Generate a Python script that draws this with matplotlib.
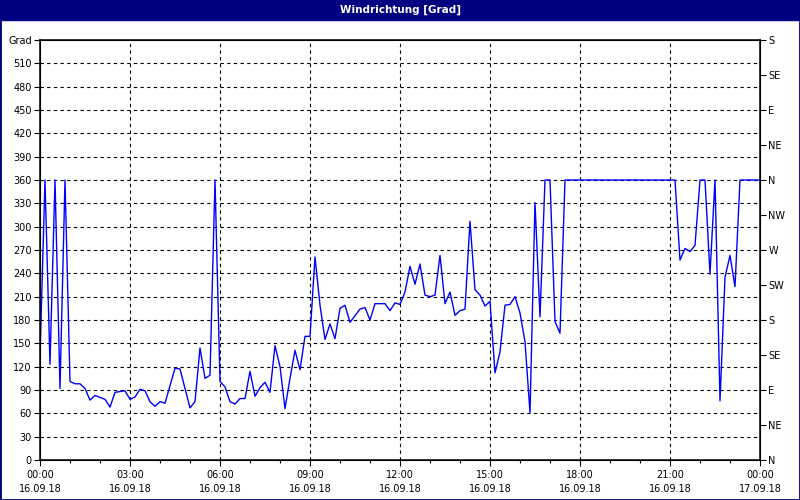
import matplotlib.pyplot as plt
from matplotlib.patches import Rectangle
from matplotlib.ticker import MultipleLocator

plt.rcParams['font.family'] = ['Liberation Sans Narrow', 'DejaVu Sans']

# minutes since 16.09.18 00:00, wind direction in degrees
minutes = [0, 10, 20, 30, 40, 50, 60, 70, 80, 90, 100, 110, 130, 140, 150,
           170, 180, 190, 200, 210, 220, 230, 240, 250, 270, 280, 300, 310,
           320, 330, 340, 350, 360, 370, 380, 390, 400, 410, 420, 430, 440,
           450, 460, 470, 480, 490, 500, 510, 520, 530, 540, 550, 560, 570,
           580, 590, 600, 610, 620, 640, 650, 660, 670, 690, 700, 710, 720,
           730, 740, 750, 760, 770, 780, 790, 800, 810, 820, 830, 840, 850,
           860, 870, 880, 890, 900, 910, 920, 930, 940, 950, 960, 970, 980,
           990, 1000, 1010, 1020, 1030, 1040, 1050, 1060, 1270, 1280, 1290,
           1300, 1310, 1320, 1330, 1340, 1350, 1360, 1370, 1380, 1390, 1400,
           1410, 1420, 1430, 1440]
grad = [133, 360, 123, 360, 92, 360, 101, 98, 98, 92, 77, 83, 78, 68, 87,
        89, 78, 81, 91, 89, 75, 69, 75, 73, 118, 117, 67, 75,
        144, 105, 109, 360, 101, 94, 75, 72, 79, 79, 114, 82, 93,
        100, 87, 147, 120, 66, 105, 141, 116, 159, 159, 261, 199, 155,
        175, 156, 195, 199, 177, 194, 196, 180, 201, 201, 192, 202, 200,
        216, 249, 226, 252, 212, 210, 212, 263, 201, 216, 186, 192, 194,
        307, 219, 212, 198, 204, 112, 139, 199, 200, 210, 189, 152, 61,
        331, 184, 360, 360, 178, 163, 360, 360, 360, 257, 272,
        268, 276, 360, 360, 239, 360, 76, 235, 263, 223, 360,
        360, 360, 360, 360]

stunden = [m / 60 for m in minutes]

x_labels = ['00:00\n16.09.18', '03:00\n16.09.18', '06:00\n16.09.18',
            '09:00\n16.09.18', '12:00\n16.09.18', '15:00\n16.09.18',
            '18:00\n16.09.18', '21:00\n16.09.18', '00:00\n17.09.18']
y_labels = [str(v) for v in range(0, 540, 30)] + ['Grad']
richtungen = ['N', 'NE', 'E', 'SE', 'S', 'SW', 'W', 'NW',
              'N', 'NE', 'E', 'SE', 'S']

navy = '#000080'
fig = plt.figure(figsize=(8, 5), dpi=100)
ax = fig.add_axes([0.05, 0.08, 0.90, 0.84])

ax.plot(stunden, grad, color='#0000ff', lw=1.0, zorder=3)

ax.set_xlim(0, 24)
ax.set_ylim(0, 540)
ax.set_xticks(range(0, 25, 3))
ax.set_xticklabels(x_labels, linespacing=1.55)
ax.xaxis.set_minor_locator(MultipleLocator(1))
ax.set_yticks(range(0, 541, 30))
ax.set_yticklabels(y_labels)
ax.tick_params(axis='both', labelsize=7, length=4, width=0.8, pad=2)
ax.tick_params(axis='x', which='minor', length=2, width=0.8)
ax.tick_params(axis='x', pad=3)

for v in range(30, 540, 30):
    ax.axhline(v, color='black', lw=0.8, ls=(0, (3, 3)), zorder=1)
for h in range(3, 24, 3):
    ax.axvline(h, color='black', lw=0.8, ls=(0, (3, 3)), zorder=1)
for s in ax.spines.values():
    s.set_linewidth(1.1)

ax2 = ax.twinx()
ax2.set_ylim(0, 540)
ax2.set_yticks(range(0, 541, 45))
ax2.set_yticklabels(richtungen)
ax2.tick_params(axis='y', labelsize=7, length=4, width=0.8, pad=2)

# Titelleiste und Rahmen
fig.patches.append(Rectangle((0, 0.96), 1, 0.04, transform=fig.transFigure,
                             color=navy, zorder=0))
fig.patches.append(Rectangle((0, 0), 1, 1, transform=fig.transFigure,
                             fill=False, edgecolor=navy, lw=2))
fig.text(0.5, 0.98, 'Windrichtung [Grad]', color='white', fontsize=7.5,
         fontweight='bold', ha='center', va='center')

plt.savefig('out.png')
